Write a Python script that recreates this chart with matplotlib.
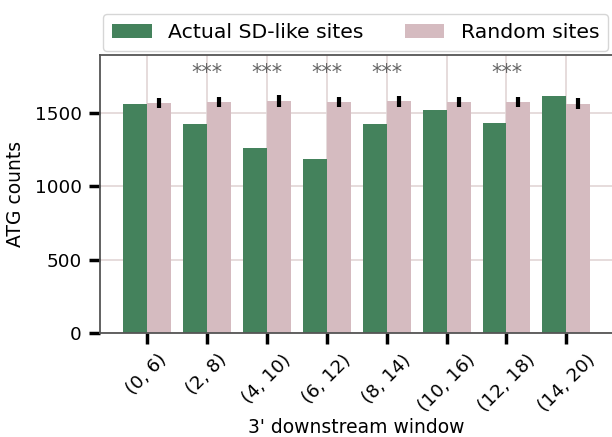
import numpy as np
import matplotlib
matplotlib.use("Agg")
import matplotlib.pyplot as plt

# windows and counts
windows = ["(0, 6)", "(2, 8)", "(4, 10)", "(6, 12)",
           "(8, 14)", "(10, 16)", "(12, 18)", "(14, 20)"]
actual = [1565, 1425, 1261, 1186, 1427, 1523, 1436, 1618]
random_mean = [1568, 1575, 1584, 1575, 1580, 1573, 1573, 1566]
random_err = [34, 36, 40, 34, 36, 34, 34, 36]
signif = ["", "***", "***", "***", "***", "", "***", ""]

green = "#44825c"
pink = "#d5bbc0"

plt.rcParams["font.family"] = "DejaVu Sans"
fig = plt.figure(figsize=(6.12, 4.37), dpi=100)
ax = fig.add_axes([100 / 612, 1 - 333 / 437, 512 / 612, 278 / 437])

x = np.arange(len(windows))
w = 0.4
ax.bar(x - w / 2, actual, width=w, color=green, label="Actual SD-like sites", zorder=2)
ax.bar(x + w / 2, random_mean, width=w, color=pink, label="Random sites", zorder=2)
ax.errorbar(x + w / 2, random_mean, yerr=random_err, fmt="none",
            ecolor="black", elinewidth=3, capsize=0, zorder=3)

for xi, s in zip(x, signif):
    if s:
        ax.text(xi, 1775, s, ha="center", va="center", fontsize=15, color="#666666")

ax.set_xlim(-0.78, 7.76)
ax.set_ylim(0, 1897)
ax.set_xticks(x)
ax.set_xticklabels(windows, rotation=45, ha="center")
ax.set_yticks([0, 500, 1000, 1500])
ax.grid(True, color="#e2d6d6", linewidth=1.2, zorder=0)
ax.set_axisbelow(True)
ax.tick_params(axis="both", labelsize=13.2, length=8, width=2.5,
               color="black", pad=5)
for sp in ax.spines.values():
    sp.set_color("#555555")
    sp.set_linewidth(1.3)
ax.spines["right"].set_visible(False)

ax.set_xlabel("3' downstream window", fontsize=13.5)
ax.xaxis.set_label_coords(0.5, -0.307)
ax.set_ylabel("ATG counts", fontsize=13.5)
ax.yaxis.set_label_coords(-0.146, 0.5)

fig.legend(loc="upper left", bbox_to_anchor=(103 / 612, 1 - 14 / 437),
           ncol=2, fontsize=14.7, frameon=True, edgecolor="#cccccc",
           handlelength=1.95, handleheight=0.65, handletextpad=0.8,
           columnspacing=2.0, borderpad=0.45, borderaxespad=0.0, fancybox=True)

fig.savefig("out.png", dpi=100)
